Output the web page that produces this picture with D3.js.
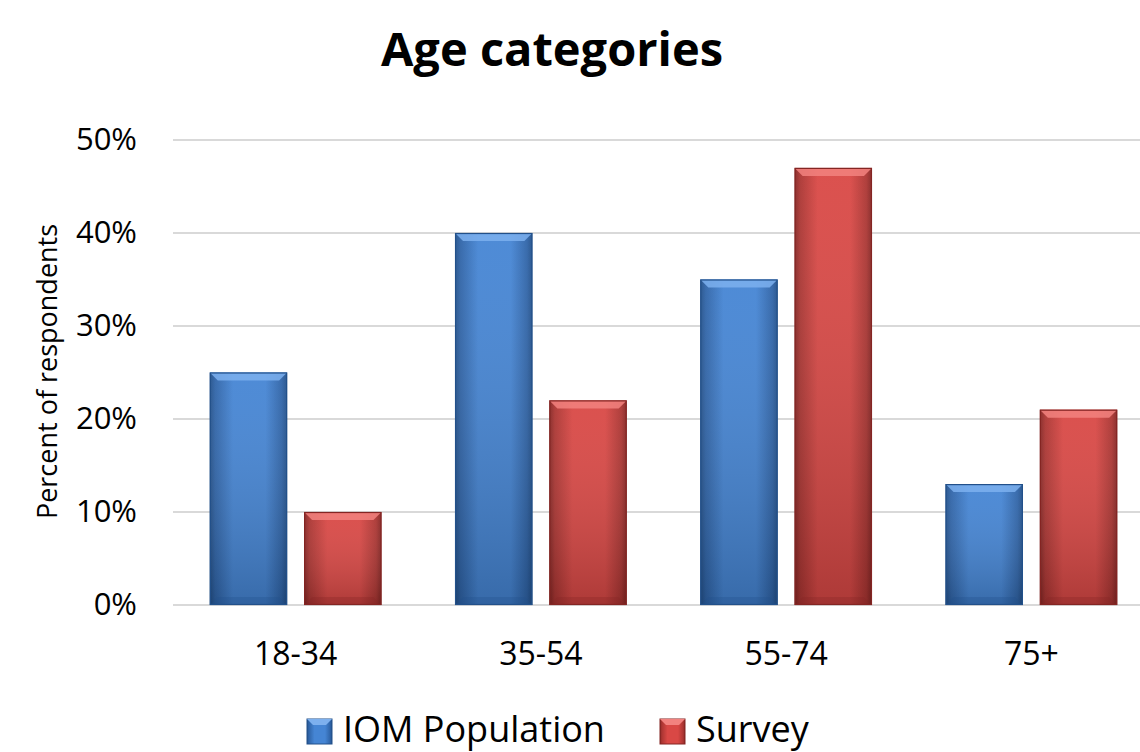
<!DOCTYPE html>
<html>
<head>
<meta charset="utf-8">
<script src="https://cdn.jsdelivr.net/npm/d3@7"></script>
<style>
  html, body { margin: 0; padding: 0; background: #fff; overflow: hidden; }
  svg { display: block; font-family: "Open Sans", "Noto Sans", sans-serif; }
</style>
</head>
<body>
<svg id="chart" width="1140" height="752"></svg>
<script>
// Age distribution: IOM population vs. survey respondents (percent)
const categories = ["18-34", "35-54", "55-74", "75+"];
const seriesNames = ["IOM Population", "Survey"];
const iomPopulation = [25, 40, 35, 13];
const survey = [10, 22, 47, 21];
const yTicks = [0, 10, 20, 30, 40, 50];

const seriesValues = [iomPopulation, survey];
const seriesColors = [
  { mid: "#4585d4", edge: "#2f64a8", top: "#7db0ee", dark: "#22508a" },
  { mid: "#d94845", edge: "#ab3532", top: "#f2827f", dark: "#842523" }
];

const svg = d3.select("#chart");
const margin = { left: 173, right: -14, top: 140, bottom: 147 };
const W = 1140, H = 752;

const x = d3.scaleBand().domain(categories)
  .range([margin.left, W - margin.right]).paddingInner(0.3).paddingOuter(0.15);
const xs = d3.scaleBand().domain(d3.range(seriesNames.length))
  .range([0, x.bandwidth()]).paddingInner(0.18);
const y = d3.scaleLinear().domain([0, 50]).range([H - margin.bottom, margin.top]);

// gradients
const defs = svg.append("defs");
seriesColors.forEach((c, i) => {
  const g = defs.append("linearGradient").attr("id", "bar" + i)
    .attr("x1", 0).attr("x2", 1).attr("y1", 0).attr("y2", 0);
  g.append("stop").attr("offset", "0%").attr("stop-color", c.dark);
  g.append("stop").attr("offset", "7%").attr("stop-color", c.edge);
  g.append("stop").attr("offset", "30%").attr("stop-color", c.mid);
  g.append("stop").attr("offset", "72%").attr("stop-color", c.mid);
  g.append("stop").attr("offset", "93%").attr("stop-color", c.edge);
  g.append("stop").attr("offset", "100%").attr("stop-color", c.dark);
  const v = defs.append("linearGradient").attr("id", "shade" + i)
    .attr("x1", 0).attr("x2", 0).attr("y1", 0).attr("y2", 1);
  v.append("stop").attr("offset", "0%").attr("stop-color", "#fff").attr("stop-opacity", 0.05);
  v.append("stop").attr("offset", "100%").attr("stop-color", "#000").attr("stop-opacity", 0.2);
});

// gridlines
svg.append("g").selectAll("line").data(yTicks).join("line")
  .attr("x1", margin.left).attr("x2", W)
  .attr("y1", d => y(d)).attr("y2", d => y(d))
  .attr("stroke", "#d9d9d9").attr("stroke-width", 2);

// y axis labels
const yAxis = d3.axisLeft(y).tickValues(yTicks).tickFormat(d => d + "%").tickSize(0).tickPadding(36);
const ya = svg.append("g").attr("transform", `translate(${margin.left},0)`).call(yAxis);
ya.select(".domain").remove();
ya.selectAll("text").attr("font-size", 31).attr("fill", "#000")
  .attr("font-family", "\"Open Sans\", sans-serif");

// x axis labels
const xAxis = d3.axisBottom(x).tickSize(0).tickPadding(0);
const xa = svg.append("g").attr("transform", `translate(0,${y(0)})`).call(xAxis);
xa.select(".domain").remove();
xa.selectAll("text").attr("font-size", 32).attr("fill", "#000")
  .attr("dy", null).attr("y", 60)
  .attr("font-family", "\"Open Sans\", sans-serif");

// bars
const bev = 8;
categories.forEach((cat, ci) => {
  seriesValues.forEach((vals, si) => {
    const x0 = x(cat) + xs(si), w = xs.bandwidth();
    const y0 = y(vals[ci]), y1 = y(0);
    const c = seriesColors[si];
    const g = svg.append("g");
    g.append("rect").attr("x", x0).attr("y", y0).attr("width", w).attr("height", y1 - y0)
      .attr("fill", `url(#bar${si})`);
    g.append("rect").attr("x", x0).attr("y", y0).attr("width", w).attr("height", y1 - y0)
      .attr("fill", `url(#shade${si})`);
    // top bevel
    g.append("path")
      .attr("d", `M${x0},${y0}L${x0 + w},${y0}L${x0 + w - bev},${y0 + bev}L${x0 + bev},${y0 + bev}Z`)
      .attr("fill", c.top).attr("opacity", 0.85);
    // bottom bevel
    g.append("path")
      .attr("d", `M${x0},${y1}L${x0 + w},${y1}L${x0 + w - bev},${y1 - bev}L${x0 + bev},${y1 - bev}Z`)
      .attr("fill", c.dark).attr("opacity", 0.3);
    g.append("rect").attr("x", x0 + 0.5).attr("y", y0 + 0.5).attr("width", w - 1).attr("height", y1 - y0 - 1)
      .attr("fill", "none").attr("stroke", c.dark).attr("stroke-width", 1.2);
  });
});

// title
svg.append("text").attr("x", 552).attr("y", 66).attr("text-anchor", "middle")
  .attr("font-size", 47).attr("font-weight", "bold").attr("fill", "#000")
  .attr("font-family", "\"Open Sans\", sans-serif").text("Age categories");

// y-axis title
svg.append("text").attr("transform", `translate(57,${(y(0) + y(50)) / 2 - 1}) rotate(-90)`)
  .attr("text-anchor", "middle").attr("font-size", 27).attr("fill", "#000")
  .attr("font-family", "\"Open Sans\", sans-serif").text("Percent of respondents");

// legend
const legendItems = [{ x: 307, tx: 343 }, { x: 660, tx: 696 }];
seriesNames.forEach((name, i) => {
  const lg = svg.append("g");
  const c = seriesColors[i], lx = legendItems[i].x, ly = 719, s = 25;
  lg.append("rect").attr("x", lx).attr("y", ly).attr("width", s).attr("height", s).attr("fill", `url(#bar${i})`)
    .attr("stroke", c.dark).attr("stroke-width", 1);
  lg.append("path").attr("d", `M${lx},${ly}L${lx + s},${ly}L${lx + s - 6},${ly + 6}L${lx + 6},${ly + 6}Z`)
    .attr("fill", c.top);
  lg.append("text").attr("x", legendItems[i].tx).attr("y", 742)
    .attr("font-size", 36).attr("fill", "#000")
    .attr("font-family", "\"Open Sans\", sans-serif").text(name);
});
</script>
</body>
</html>
